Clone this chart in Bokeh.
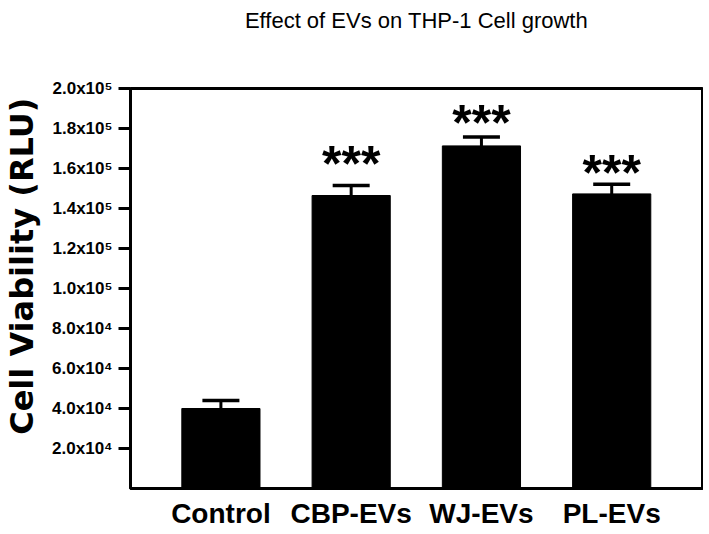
from bokeh.plotting import figure
from bokeh.models import FixedTicker, Range1d, ColumnDataSource, Title
from bokeh.core.properties import value
from bokeh.embed import file_html
from bokeh.resources import INLINE

# ---- data ----
categories = ["Control", "CBP-EVs", "WJ-EVs", "PL-EVs"]
viability = [40000, 146500, 171300, 147300]
sem = [4000, 5000, 4500, 4800]
significance = ["", "***", "***", "***"]
star_y = [0, 164600, 185200, 160200]
y_ticks = [20000, 40000, 60000, 80000, 100000, 120000, 140000, 160000, 180000, 200000]
y_tick_labels = ["2.0x10⁴", "4.0x10⁴", "6.0x10⁴", "8.0x10⁴", "1.0x10⁵",
                 "1.2x10⁵", "1.4x10⁵", "1.6x10⁵", "1.8x10⁵", "2.0x10⁵"]
title_text = "Effect of EVs on THP-1 Cell growth"
y_label = "Cell Viability (RLU)"

xs = list(range(len(categories)))
upper = [v + e for v, e in zip(viability, sem)]
cap_half = 0.142

p = figure(frame_width=572, frame_height=400,
           x_range=Range1d(-0.694, 3.697), y_range=Range1d(0, 200000),
           output_backend="svg", toolbar_location=None,
           min_border_left=120, min_border_right=1,
           min_border_top=86, min_border_bottom=0)

# spacer between frame and title, then the title itself (stacked outward)
p.add_layout(Title(text=" ", text_font_size="1px", standoff=48), "above")
p.add_layout(Title(text=title_text, align="center", text_font="Liberation Sans",
                   text_font_size="22px", text_font_style="normal",
                   text_color="black", standoff=10), "above")

p.background_fill_color = "white"
p.border_fill_color = "white"
p.outline_line_color = "black"
p.outline_line_width = 3
p.xgrid.visible = False
p.ygrid.visible = False

# bars
p.vbar(x=xs, top=viability, width=0.6, fill_color="black", line_color="black")

# error bars (upper only)
p.segment(x0=xs, y0=viability, x1=xs, y1=upper, line_color="black", line_width=3)
p.segment(x0=[x - cap_half for x in xs], y0=upper,
          x1=[x + cap_half for x in xs], y1=upper,
          line_color="black", line_width=3.5)

# significance stars
sx = [x for x, s in zip(xs, significance) if s]
sy = [y for y, s in zip(star_y, significance) if s]
st = [s for s in significance if s]
src = ColumnDataSource(dict(x=sx, y=sy, t=st))
p.text(x="x", y="y", text="t", source=src, text_align="center",
       text_baseline="middle", text_font=value("Liberation Sans"),
       text_font_style="bold", text_font_size="50px", text_color="black",
       y_offset=5)

# x axis
xa = p.xaxis[0]
xa.ticker = FixedTicker(ticks=xs)
xa.major_label_overrides = {x: c for x, c in zip(xs, categories)}
xa.major_tick_out = 0
xa.major_tick_in = 0
xa.minor_tick_out = 0
xa.minor_tick_in = 0
xa.axis_line_width = 3
xa.axis_line_color = "black"
xa.major_label_text_font = "Liberation Sans"
xa.major_label_text_font_style = "bold"
xa.major_label_text_font_size = "28px"
xa.major_label_text_color = "black"
xa.major_label_standoff = 9

# y axis
ya = p.yaxis[0]
ya.ticker = FixedTicker(ticks=y_ticks)
ya.major_label_overrides = {t: l for t, l in zip(y_ticks, y_tick_labels)}
ya.major_tick_out = 12
ya.major_tick_in = 0
ya.major_tick_line_width = 3
ya.major_tick_line_color = "black"
ya.minor_tick_out = 0
ya.minor_tick_in = 0
ya.axis_line_width = 3
ya.axis_line_color = "black"
ya.major_label_text_font = "Liberation Sans"
ya.major_label_text_font_style = "bold"
ya.major_label_text_font_size = "17px"
ya.major_label_text_color = "black"
ya.major_label_standoff = 6
ya.axis_label = "\u00a0" * 4 + y_label
ya.axis_label_text_font = "DejaVu Sans"
ya.axis_label_text_font_style = "bold"
ya.axis_label_text_font_size = "32px"
ya.axis_label_text_color = "black"
ya.axis_label_standoff = 8

open("out.html", "w").write(file_html(p, INLINE))
